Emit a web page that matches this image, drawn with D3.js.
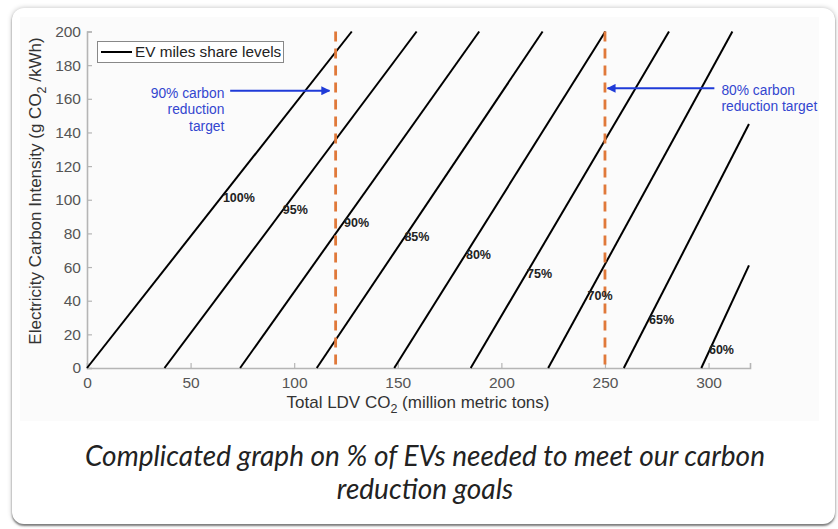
<!DOCTYPE html>
<html><head><meta charset="utf-8">
<script src="https://cdn.jsdelivr.net/npm/d3@7"></script>
<style>
html,body{margin:0;padding:0;background:#fff;width:838px;height:529px;overflow:hidden;}
#card{position:absolute;left:12px;top:8px;width:823px;height:516px;background:#fff;border-radius:12px;
box-shadow:0 2px 2px rgba(0,0,0,0.45),0 0 5px rgba(0,0,0,0.25);}
svg{position:absolute;left:0;top:0;}
</style></head>
<body><div id="card"></div><svg id="c" width="838" height="529"></svg>
<script>
// ---- data ----
const shares = ["100%","95%","90%","85%","80%","75%","70%","65%","60%"];
const xStart = [0, 37.4, 73.9, 110.9, 148.3, 185.2, 222.6, 259.1, 296.5];
const xEnd   = [127.8, 159.1, 189.3, 219.9, 250.2, 280.9, 311.5, 319.5, 319.5];
const yEnd   = [200, 200, 200, 200, 200, 200, 200, 145, 61];
const labelX = [65.6, 94.5, 124.1, 153.2, 182.9, 212.4, 241.6, 271.3, 300.2];
const labelY = [101.2, 93.9, 86.5, 77.8, 67.5, 55.9, 43.2, 28.5, 11.1];
const targets = [120, 250];
const xTicks = [0,50,100,150,200,250,300];
const yTicks = [0,20,40,60,80,100,120,140,160,180,200];
const arrowFrom = [[69.1,164.8],[302.8,166.2]];
const arrowTo   = [[117.0,164.8],[251.2,166.2]];
const noteLines = [["90% carbon","reduction","target"],["80% carbon","reduction target"]];
const notePos = [[66.3,163.5,"end"],[306.2,165.2,"start"]];
const caption = ["Complicated graph on % of EVs needed to meet our carbon","reduction goals"];

const svg = d3.select("#c");
const x = d3.scaleLinear().domain([0,320]).range([87,750]);
const y = d3.scaleLinear().domain([0,200]).range([368,31.5]);

svg.append("rect").attr("x",20).attr("y",17).attr("width",799).attr("height",404).attr("fill","#fbfbfb");

const font = "'Liberation Sans', Arial, sans-serif";
const axisCol = "#b5b5b5";

// axes
const gx = svg.append("g").attr("transform","translate(0,368)")
  .call(d3.axisBottom(x).tickValues(xTicks).tickSize(-5).tickPadding(9).tickFormat(d3.format("d")));
const gy = svg.append("g").attr("transform","translate(87,0)")
  .call(d3.axisLeft(y).tickValues(yTicks).tickSize(-5).tickPadding(6).tickFormat(d3.format("d")));
[gx,gy].forEach(g=>{
  g.select(".domain").attr("stroke",axisCol).attr("stroke-width",1.6);
  g.selectAll(".tick line").attr("stroke",axisCol).attr("stroke-width",1.2);
  g.selectAll(".tick text").attr("fill","#555").attr("font-family",font).attr("font-size",15.5);
});
gx.selectAll(".tick text").attr("dy","0.72em");

// share lines
const lineG = svg.append("g");
shares.forEach((s,i)=>{
  lineG.append("line").attr("x1",x(xStart[i])).attr("y1",y(0))
    .attr("x2",x(xEnd[i])).attr("y2",y(yEnd[i]))
    .attr("stroke","#000").attr("stroke-width",2);
});

// target lines
targets.forEach(t=>{
  svg.append("line").attr("x1",x(t)).attr("x2",x(t)).attr("y1",y(200)).attr("y2",y(0))
    .attr("stroke","#e0793a").attr("stroke-width",2.8).attr("stroke-dasharray","10,7");
});

// share labels
shares.forEach((s,i)=>{
  svg.append("text").attr("x",x(labelX[i])).attr("y",y(labelY[i])).attr("dy","0.35em")
    .attr("font-family",font).attr("font-weight","bold").attr("font-size",12.5).attr("fill","#222").text(s);
});

// arrows
const defs = svg.append("defs");
defs.append("marker").attr("id","ah").attr("viewBox","0 0 10 10").attr("refX",9).attr("refY",5)
  .attr("markerWidth",4.5).attr("markerHeight",4.5).attr("orient","auto-start-reverse")
  .append("path").attr("d","M0,0L10,5L0,10z").attr("fill","#1f3bd8");
arrowFrom.forEach((f,i)=>{
  svg.append("line").attr("x1",x(f[0])).attr("y1",y(f[1])).attr("x2",x(arrowTo[i][0])).attr("y2",y(arrowTo[i][1]))
    .attr("stroke","#1f3bd8").attr("stroke-width",2).attr("marker-end","url(#ah)");
});
noteLines.forEach((ls,i)=>{
  const t = svg.append("text").attr("font-family",font).attr("font-size",13.8).attr("fill","#3346cf")
    .attr("text-anchor",notePos[i][2]);
  ls.forEach((l,j)=>{
    t.append("tspan").attr("x",x(notePos[i][0])).attr("y",y(notePos[i][1])+j*16.5).attr("dy","0.35em").text(l);
  });
});

// legend
svg.append("rect").attr("x",97.5).attr("y",41.5).attr("width",186).attr("height",21)
  .attr("fill","#fff").attr("stroke","#888").attr("stroke-width",1);
svg.append("line").attr("x1",101).attr("x2",132).attr("y1",52).attr("y2",52).attr("stroke","#000").attr("stroke-width",2);
svg.append("text").attr("x",135).attr("y",52).attr("dy","0.35em").attr("font-family",font).attr("font-size",15.3)
  .attr("fill","#222").text("EV miles share levels");

// axis titles
const xt = svg.append("text").attr("x",418).attr("y",408).attr("text-anchor","middle")
  .attr("font-family",font).attr("font-size",17).attr("fill","#333");
xt.append("tspan").text("Total LDV CO");
xt.append("tspan").attr("dy",5).attr("font-size",12.5).text("2");
xt.append("tspan").attr("dy",-5).text(" (million metric tons)");

const yt = svg.append("text").attr("transform","translate(41,191) rotate(-90)").attr("text-anchor","middle")
  .attr("font-family",font).attr("font-size",17).attr("fill","#333");
yt.append("tspan").text("Electricity Carbon Intensity (g CO");
yt.append("tspan").attr("dy",5).attr("font-size",12.5).text("2");
yt.append("tspan").attr("dy",-5).text(" /kWh)");

// caption
caption.forEach((c,i)=>{
  svg.append("text").attr("x",425).attr("y",466+i*33).attr("text-anchor","middle")
    .attr("font-family","Lato, sans-serif").attr("font-style","italic").attr("font-weight",400)
    .attr("font-size",28).attr("fill","#222").attr("textLength", i===0?680:null).text(c);
});
</script></body></html>
